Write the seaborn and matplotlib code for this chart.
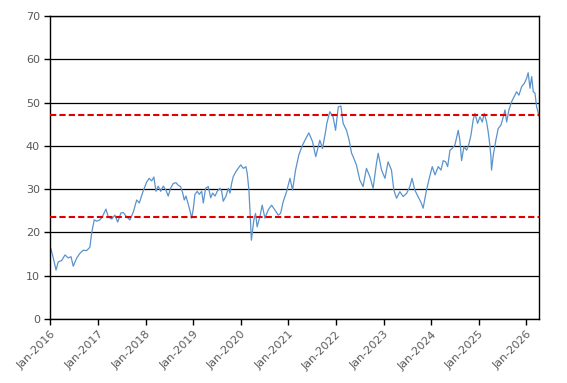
import matplotlib

matplotlib.use("Agg")

import matplotlib.dates as mdates
import matplotlib.pyplot as plt
import pandas as pd
import seaborn as sns

# series
dates = [
    "2016-01-04", "2016-01-24", "2016-02-14", "2016-03-02", "2016-03-28", "2016-04-23",
    "2016-05-18", "2016-06-08", "2016-06-25", "2016-07-22", "2016-08-16", "2016-09-10",
    "2016-10-06", "2016-10-31", "2016-11-13", "2016-12-03", "2016-12-22",
    "2017-01-16", "2017-02-03", "2017-03-03", "2017-03-21", "2017-04-16", "2017-05-11",
    "2017-06-01", "2017-06-26", "2017-07-14", "2017-08-09", "2017-09-03", "2017-09-29",
    "2017-10-25", "2017-11-14", "2017-12-14",
    "2018-01-09", "2018-01-29", "2018-02-17", "2018-03-06", "2018-03-22", "2018-04-08",
    "2018-04-27", "2018-05-17", "2018-06-06", "2018-06-24", "2018-07-12", "2018-08-01",
    "2018-08-22", "2018-09-09", "2018-09-27", "2018-10-13", "2018-10-25", "2018-11-07",
    "2018-11-25", "2018-12-08", "2018-12-21",
    "2019-01-02", "2019-01-15", "2019-02-02", "2019-02-17", "2019-03-08", "2019-03-20",
    "2019-04-07", "2019-04-27", "2019-05-16", "2019-05-31", "2019-06-18", "2019-07-05",
    "2019-07-26", "2019-08-08", "2019-08-20", "2019-09-10", "2019-09-28", "2019-10-11",
    "2019-10-24", "2019-11-05", "2019-11-26", "2019-12-13",
    "2020-01-01", "2020-01-21", "2020-02-10", "2020-02-20", "2020-03-04", "2020-03-12",
    "2020-03-23", "2020-04-11", "2020-04-24", "2020-05-06", "2020-05-27", "2020-06-14",
    "2020-07-05", "2020-07-30", "2020-08-25", "2020-09-19", "2020-10-15", "2020-11-02",
    "2020-11-22", "2020-12-18",
    "2021-01-13", "2021-02-02", "2021-02-25", "2021-03-22", "2021-04-20", "2021-05-15",
    "2021-06-07", "2021-07-05", "2021-07-30", "2021-08-30", "2021-09-20", "2021-10-15",
    "2021-10-23", "2021-11-15", "2021-12-10", "2021-12-29",
    "2022-01-19", "2022-02-08", "2022-02-25", "2022-03-23", "2022-04-12", "2022-05-01",
    "2022-05-13", "2022-06-08", "2022-07-03", "2022-07-28", "2022-08-23", "2022-09-18",
    "2022-10-13", "2022-11-08", "2022-11-21", "2022-12-17",
    "2023-01-12", "2023-02-05", "2023-03-03", "2023-03-21", "2023-04-11", "2023-05-06",
    "2023-06-01", "2023-06-27", "2023-07-22", "2023-08-08", "2023-08-29", "2023-09-23",
    "2023-10-19", "2023-11-01", "2023-11-27", "2023-12-22",
    "2024-01-10", "2024-01-31", "2024-02-25", "2024-03-17", "2024-04-03", "2024-04-22",
    "2024-05-07", "2024-05-25", "2024-06-11", "2024-07-02", "2024-07-27", "2024-08-09",
    "2024-08-22", "2024-09-09", "2024-09-30", "2024-10-18", "2024-11-02", "2024-11-19",
    "2024-12-02", "2024-12-23",
    "2025-01-10", "2025-01-28", "2025-02-12", "2025-03-02", "2025-03-14", "2025-03-27",
    "2025-04-04", "2025-04-09", "2025-04-22", "2025-05-12", "2025-05-30", "2025-06-20",
    "2025-07-08", "2025-07-21", "2025-08-03", "2025-08-20", "2025-09-10", "2025-09-30",
    "2025-10-18", "2025-11-05", "2025-11-26", "2025-12-16",
    "2026-01-03", "2026-01-15", "2026-01-29", "2026-02-11", "2026-02-23", "2026-03-08",
    "2026-03-21", "2026-04-03", "2026-04-08",
]
values = [
    16.4, 14.1, 11.3, 13.2, 13.5, 14.8,
    14.1, 14.4, 12.2, 14.1, 15.2, 15.9,
    15.8, 16.6, 19.8, 22.9, 22.6,
    22.9, 23.6, 25.4, 23.6, 23.1, 24.0,
    22.4, 24.5, 24.6, 23.6, 22.9, 24.7,
    27.5, 26.8, 29.6,
    31.6, 32.5, 31.9, 32.8, 29.5, 30.7,
    29.5, 30.7, 29.8, 28.4, 30.2, 31.3,
    31.5, 30.9, 30.6, 29.1, 27.5, 28.4,
    26.5, 25.0, 23.3,
    25.4, 28.8, 29.5, 28.8, 29.5, 26.8,
    30.2, 30.6, 28.0, 29.1, 28.4, 29.5,
    30.2, 29.5, 27.2, 28.4, 30.2, 29.1,
    31.4, 32.9, 34.1, 34.8,
    35.6, 34.8, 35.2, 33.7, 29.8, 25.2,
    18.2, 22.9, 24.4, 21.3, 23.6, 26.3,
    23.3, 25.2, 26.3, 25.2, 24.0, 24.4,
    27.1, 29.4,
    32.5, 29.8, 34.4, 37.9, 40.2, 41.7,
    43.0, 41.0, 37.5, 41.3, 39.4, 43.6,
    45.2, 47.9, 46.7, 43.6,
    49.0, 49.2, 45.2, 43.6, 41.3, 38.3,
    37.5, 35.5, 32.1, 30.6, 34.8, 32.9,
    30.2, 36.0, 38.3, 34.4,
    32.5, 36.3, 34.4, 29.8, 27.9, 29.4,
    28.3, 29.0, 30.6, 32.5, 29.8, 28.3,
    26.7, 25.6, 29.8, 33.0,
    35.2, 33.3, 35.2, 34.4, 36.6, 36.3,
    35.2, 39.0, 39.4, 40.2, 43.6, 41.3,
    36.6, 39.8, 39.0, 40.5, 42.5, 46.0,
    47.5, 45.2,
    46.7, 45.5, 47.5, 45.5, 43.3, 40.2,
    37.5, 34.4, 37.8, 41.3, 44.0, 44.8,
    46.7, 48.3, 45.5, 48.3, 50.2, 51.4,
    52.5, 51.7, 53.7, 54.4,
    55.6, 56.9, 53.3, 56.0, 52.5, 52.2,
    49.0, 47.5, 46.8,
]

upper_band = 47.2
lower_band = 23.5

y_ticks = [0, 10, 20, 30, 40, 50, 60, 70]

df = pd.DataFrame({"date": pd.to_datetime(dates), "value": values})

sns.set_style("white")
plt.rcParams["font.family"] = ["DejaVu Sans"]

fig = plt.figure(figsize=(5.67, 3.83), dpi=100)
ax = fig.add_axes([0.0887, 0.1671, 0.8619, 0.7911])

sns.lineplot(data=df, x="date", y="value", ax=ax, color="#5B93CC", linewidth=0.9)

ax.axhline(upper_band, color="#E00000", linewidth=1.5, dashes=(3, 1.5), zorder=3)
ax.axhline(lower_band, color="#E00000", linewidth=1.5, dashes=(3, 1.5), zorder=3)

ax.set_ylim(0, 70)
ax.set_yticks(y_ticks)
ax.set_xlim(pd.Timestamp("2016-01-01"), pd.Timestamp("2026-04-08"))
ax.xaxis.set_major_locator(mdates.YearLocator())
ax.xaxis.set_major_formatter(mdates.DateFormatter("%b-%Y"))

ax.grid(axis="y", color="black", linewidth=0.9)
ax.set_axisbelow(True)
for side in ["left", "bottom", "right", "top"]:
    ax.spines[side].set_color("black")
    ax.spines[side].set_linewidth(1.0)

ax.tick_params(axis="both", which="major", length=4, width=1, color="black",
               labelsize=8, labelcolor="#595959", direction="out", left=True, bottom=True)
plt.setp(ax.get_xticklabels(), rotation=45, ha="right", rotation_mode="anchor")
ax.set_xlabel("")
ax.set_ylabel("")

fig.savefig("out.png", dpi=100)
plt.close(fig)
